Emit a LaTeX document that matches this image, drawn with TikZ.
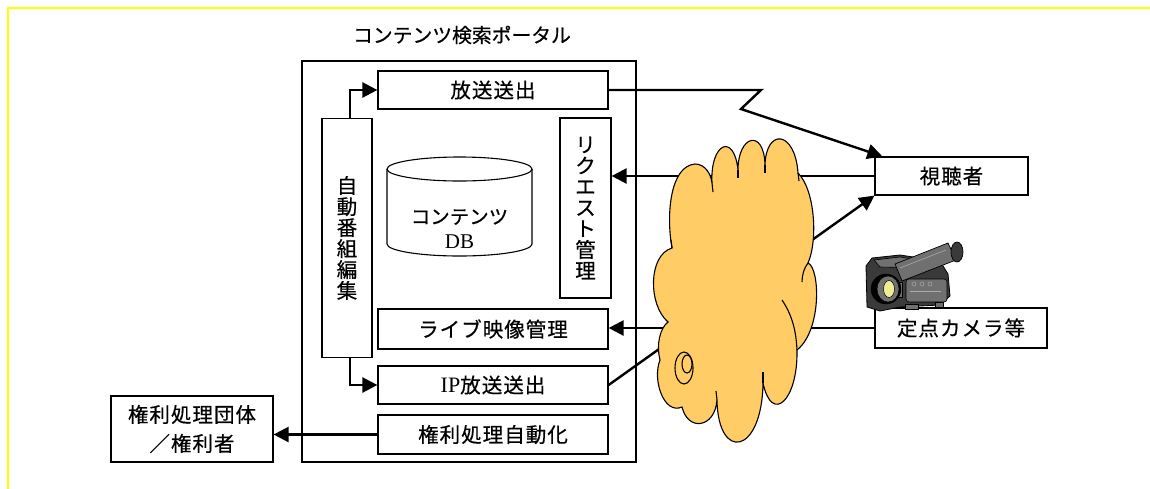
\documentclass[tikz,border=0pt]{standalone}
\usepackage{fontspec}
\setmainfont{Liberation Serif}
\newfontfamily\jp[FakeBold=0.5]{Noto Sans CJK JP}
\newfontfamily\jpsp[LetterSpace=5,FakeBold=0.5]{Noto Sans CJK JP}
\usetikzlibrary{arrows.meta}

\definecolor{frameyellow}{RGB}{255,255,0}
\definecolor{cloudfill}{RGB}{255,204,102}
\definecolor{camdark}{RGB}{58,58,58}
\definecolor{camgray}{RGB}{112,112,112}
\definecolor{camlight}{RGB}{170,170,170}
\definecolor{lensyellow}{RGB}{240,235,150}

\newcommand\boxfont{\fontsize{20.5}{21}\selectfont\jpsp}
\newcommand\stackfont{\fontsize{20.5}{21}\selectfont\jp}

\tikzset{
  box/.style={draw=black, line width=1.2pt, fill=white, inner sep=0pt, font=\boxfont},
  vbox/.style={draw=black, line width=1.2pt, fill=white, inner sep=0pt, font=\stackfont, align=center},
  arr/.style={line width=2.4pt, -{Triangle[length=15pt,width=15pt]}},
  link/.style={line width=2.4pt},
  cloudline/.style={draw=black, line width=1.1pt},
}

\begin{document}
\begin{tikzpicture}[x=1pt, y=-1pt]
\useasboundingbox (0,0) rectangle (1150,488);

% outer yellow frame
\draw[frameyellow, line width=2pt] (8,490) -- (8,8) -- (1152,8);

% portal frame and title
\node[draw=black, line width=1.2pt, minimum width=334pt, minimum height=401pt, inner sep=0pt] (portal) at (469,261.5) {};
\node[font=\fontsize{19.8}{22}\selectfont\jp] (title) at (462,35) {コンテンツ検索ポータル};

% boxes inside the portal
\node[box, minimum width=230pt, minimum height=38pt] (bcast) at (493,90) {放送送出};
\node[vbox, minimum width=50pt, minimum height=239pt] (prog) at (347,238) {自\\動\\番\\組\\編\\集};
\node[vbox, minimum width=51pt, minimum height=180pt] (req) at (585.5,208) {リ\\ク\\エ\\ス\\ト\\管\\理};
\node[box, minimum width=230pt, minimum height=40pt] (live) at (493,329) {ライブ映像管理};
\node[box, minimum width=230pt, minimum height=38pt] (ip) at (493,385) {{\rmfamily\fontsize{22}{22}\selectfont IP}放送送出};
\node[box, minimum width=230pt, minimum height=39pt] (rauto) at (493,434.5) {権利処理自動化};

% contents database cylinder
\draw[line width=1.1pt, fill=white] (387,169) -- (387,244) arc[start angle=180, end angle=0, x radius=72.5, y radius=12] -- (532,169);
\draw[line width=1.1pt, fill=white] (459.5,169) ellipse[x radius=72.5, y radius=12];
\node[font=\fontsize{19.5}{20}\selectfont\jp] (dbname) at (459.5,217) {コンテンツ};
\node[font=\fontsize{21}{22}\selectfont] (dbtag) at (459.5,242) {DB};

% outside boxes
\node[box, minimum width=153pt, minimum height=38pt] (viewer) at (951.5,176) {視聴者};
\node[box, minimum width=172pt, minimum height=40pt] (camlabel) at (961,328) {定点カメラ等};
\node[box, minimum width=162pt, minimum height=66pt, align=center, font=\fontsize{20.5}{29}\selectfont\jpsp] (rights) at (192,429) {権利処理団体\\／権利者};

% connectors
\coordinate (zigA) at (761,90);
\coordinate (zigB) at (741,109);
\coordinate (viewtop) at ([xshift=8pt]viewer.north west);
\draw[link, -{Triangle[length=15pt,width=15pt]}] (bcast.east) -- (zigA) -- (zigB) -- (viewtop);
\draw[arr] (prog.north -| 350,0) |- (bcast.west);
\draw[arr] (prog.south -| 350,0) |- (ip.west);
\draw[arr] (viewer.west) -- (viewer.west -| req.east);
\draw[arr] (camlabel.west) -- (camlabel.west -| live.east);
\draw[arr] (ip.east) -- (viewer.south west);
\draw[arr] (rauto.west) -- (rauto.west -| rights.east);

% network cloud
\filldraw[cloudline, fill=cloudfill] (672,248)
  .. controls (666,215) and (670,166) .. (695,164)
  .. controls (705,164) and (711,174) .. (712,183)
  .. controls (710,143) and (734,132) .. (738,170)
  .. controls (738,135) and (764,128) .. (765,165)
  .. controls (766,128) and (795,130) .. (798,173)
  .. controls (815,190) and (818,240) .. (808,263)
  .. controls (820,268) and (822,330) .. (797,350)
  .. controls (798,400) and (772,425) .. (763,383)
  .. controls (762,455) and (718,462) .. (717,400)
  .. controls (715,428) and (688,432) .. (682,407)
  .. controls (664,415) and (652,380) .. (660,360)
  .. controls (656,345) and (660,328) .. (668,322)
  .. controls (648,305) and (648,255) .. (672,248) -- cycle;
\draw[cloudline] (712,183) -- (713,192);
\draw[cloudline] (738,170) -- (738,178);
\draw[cloudline] (765,165) -- (765,173);
\draw[cloudline] (798,173) -- (799,181);
\draw[cloudline] (808,263) .. controls (804,268) and (802,275) .. (802,282);
\draw[cloudline] (782,300) .. controls (792,315) and (796,330) .. (797,350);
\draw[cloudline] (763,383) -- (763,372);
\draw[cloudline] (717,400) -- (716,391);
\draw[cloudline] (672,248) -- (671,240);
\draw[cloudline, fill=cloudfill] (684,368) ellipse[x radius=9, y radius=16];
\draw[cloudline, fill=cloudfill] (687,364) ellipse[x radius=5, y radius=9];

% video camera
\filldraw[fill=camdark, draw=black, line width=0.8pt] (866,266) -- (872,258) -- (900,255) -- (940,261) -- (948,274) -- (950,296) -- (940,305) -- (900,307) -- (880,311) -- (867,307) -- cycle;
\filldraw[fill=camgray, draw=black, line width=0.6pt] (874,260) -- (900,257) -- (938,263) -- (930,268) -- (880,267) -- cycle;
\filldraw[fill=camgray, draw=black, line width=0.7pt] (895,264) -- (948,243) -- (956,260) -- (902,281) -- cycle;
\draw[camlight, line width=0.6pt] (900,268) -- (946,250);
\filldraw[fill=camdark, draw=black, line width=0.7pt] (957,252) ellipse[x radius=6, y radius=10];
\filldraw[fill=camgray, draw=black, line width=0.6pt, rounded corners=3pt] (906,279) rectangle (947,302);
\draw[camlight, line width=0.8pt] (910,291) -- (941,291);
\foreach \cx in {914,922,930} \draw[camlight, line width=0.5pt] (\cx,284) circle[radius=2];
\filldraw[fill=camgray, draw=black, line width=0.5pt] (894,282) rectangle (902,297);
\filldraw[fill=black] (886,289) circle[radius=15];
\filldraw[fill=camgray, draw=black, line width=0.5pt] (888,289) ellipse[x radius=11, y radius=13];
\filldraw[fill=lensyellow, draw=black, line width=0.5pt] (889,289) ellipse[x radius=5.5, y radius=8.5];
\filldraw[fill=camgray, draw=black, line width=0.5pt] (905,304) rectangle (918,309);
\filldraw[fill=camgray, draw=black, line width=0.5pt] (935,302) rectangle (943,307);
\end{tikzpicture}
\end{document}
